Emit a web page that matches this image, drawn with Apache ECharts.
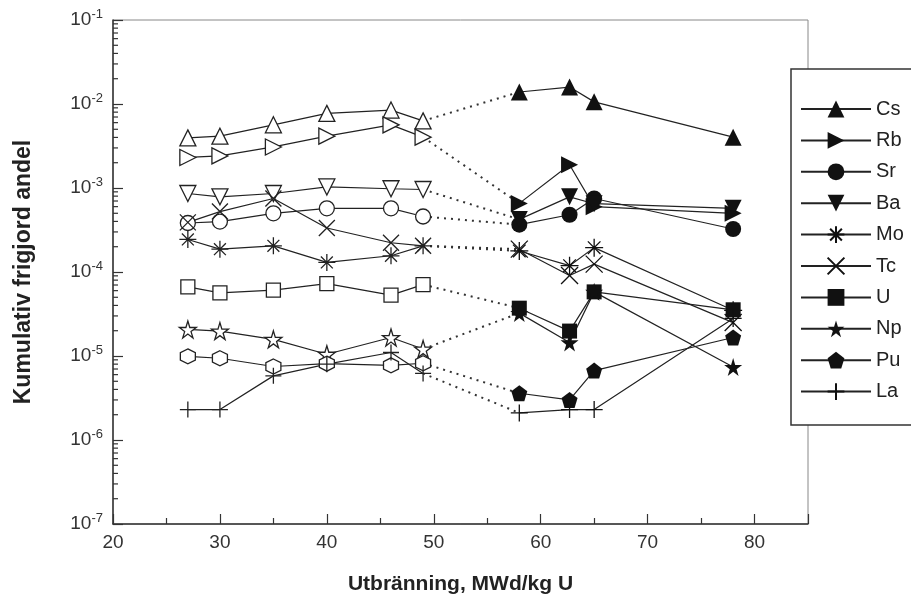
<!DOCTYPE html>
<html>
<head>
<meta charset="utf-8">
<script src="https://cdn.jsdelivr.net/npm/echarts@6/dist/echarts.min.js"></script>
<style>
  html, body { margin: 0; padding: 0; background: #fff; }
  #main { width: 911px; height: 600px; }
</style>
</head>
<body>
<div id="main"></div>
<script>
// utbränning (MWd/kg U)
const xOpen = [27, 30, 35, 40, 46, 49]
const xFilled = [58, 62.7, 65, 78]

// kumulativ frigjord andel per grundämne
const csOpen = [3.95e-3, 4.14e-3, 5.65e-3, 7.74e-3, 8.47e-3, 6.29e-3]
const csFilled = [1.39e-2, 1.59e-2, 1.06e-2, 4.03e-3]
const rbOpen = [2.31e-3, 2.41e-3, 3.08e-3, 4.14e-3, 5.65e-3, 4.03e-3]
const rbFilled = [6.56e-4, 1.89e-3, 6.0e-4, 5.0e-4]
const srOpen = [3.83e-4, 3.98e-4, 5.0e-4, 5.73e-4, 5.73e-4, 4.58e-4]
const srFilled = [3.66e-4, 4.8e-4, 7.5e-4, 3.25e-4]
const baOpen = [8.6e-4, 7.85e-4, 8.6e-4, 1.03e-3, 9.8e-4, 9.6e-4]
const baFilled = [4.23e-4, 7.85e-4, 6.5e-4, 5.73e-4]
const moOpen = [2.44e-4, 1.87e-4, 2.05e-4, 1.30e-4, 1.56e-4, 2.05e-4]
const moFilled = [1.78e-4, 1.19e-4, 1.95e-4, 3.5e-5]
const tcOpen = [3.9e-4, 5.24e-4, 7.5e-4, 3.34e-4, 2.23e-4, 2.05e-4]
const tcFilled = [1.87e-4, 9.1e-5, 1.24e-4, 2.5e-5]
const uOpen = [6.64e-5, 5.65e-5, 6.1e-5, 7.27e-5, 5.3e-5, 7.08e-5]
const uFilled = [3.71e-5, 1.98e-5, 5.8e-5, 3.55e-5]
const npOpen = [2.07e-5, 1.98e-5, 1.58e-5, 1.05e-5, 1.66e-5, 1.21e-5]
const npFilled = [3.24e-5, 1.45e-5, 5.8e-5, 7.4e-6]
const puOpen = [9.9e-6, 9.4e-6, 7.5e-6, 8.1e-6, 7.75e-6, 8.2e-6]
const puFilled = [3.6e-6, 3.0e-6, 6.7e-6, 1.66e-5]
const laOpen = [2.3e-6, 2.3e-6, 5.8e-6, 8.0e-6, 1.1e-5, 6.2e-6]
const laFilled = [2.1e-6, 2.3e-6, 2.3e-6, 2.8e-5]

// logaritmiska delstreck 2..9 per dekad
const minorTicks = []
for (let e = -7; e < -1; e++) {
  for (let m = 2; m <= 9; m++) minorTicks.push([20, m * Math.pow(10, e)])
}

const INK = '#222'
const P_AST = 'path://M0,5L10,5M5,0L5,10M1.5,1.5L8.5,8.5M8.5,1.5L1.5,8.5'
const P_X = 'path://M0,0L10,10M10,0L0,10'
const P_PLUS = 'path://M5,0L5,10M0,5L10,5'
const P_STAR = 'path://M50,0L61,35L98,35L68,57L79,91L50,70L21,91L32,57L2,35L39,35Z'
const P_PENT = 'path://M50,0L98,36L80,95L20,95L2,36Z'
const P_HEX = 'path://M50,0L93,25L93,75L50,100L7,75L7,25Z'

// [namn, öppen, fylld, symbol öppen, symbol fylld, rotation, storlek, bara streck]
const elements = [
  ['Cs', csOpen, csFilled, 'triangle', 'triangle', 0, 16, false],
  ['Rb', rbOpen, rbFilled, 'triangle', 'triangle', -90, 16, false],
  ['Sr', srOpen, srFilled, 'circle', 'circle', 0, 15, false],
  ['Ba', baOpen, baFilled, 'triangle', 'triangle', 180, 16, false],
  ['Mo', moOpen, moFilled, P_AST, P_AST, 0, 17, true],
  ['Tc', tcOpen, tcFilled, P_X, P_X, 0, 16, true],
  ['U', uOpen, uFilled, 'rect', 'rect', 0, 14, false],
  ['Np', npOpen, npFilled, P_STAR, P_STAR, 0, 17, false],
  ['Pu', puOpen, puFilled, P_HEX, P_PENT, 0, 15, false],
  ['La', laOpen, laFilled, P_PLUS, P_PLUS, 0, 16, true]
]

const series = []
elements.forEach(([name, open, filled, symO, symF, rot, size, strokeOnly]) => {
  // öppna symboler, heldragen linje
  series.push({
    name: name + '-öppen',
    type: 'line',
    data: xOpen.map((x, i) => [x, open[i]]),
    symbol: symO,
    symbolRotate: rot,
    symbolSize: size,
    showAllSymbol: true,
    lineStyle: { color: INK, width: 1.2 },
    itemStyle: { color: strokeOnly ? INK : '#fff', borderColor: INK, borderWidth: 1.3 },
    emphasis: { disabled: true },
    z: 3
  })
  // prickad övergång
  series.push({
    name: name + '-prick',
    type: 'line',
    data: [[xOpen[5], open[5]], [xFilled[0], filled[0]]],
    symbol: 'none',
    lineStyle: { color: '#333', width: 2, type: [2, 5] },
    emphasis: { disabled: true },
    z: 2
  })
  // fyllda symboler
  series.push({
    name: name,
    type: 'line',
    data: xFilled.map((x, i) => [x, filled[i]]),
    symbol: symF,
    symbolRotate: rot,
    symbolSize: size + 1,
    showAllSymbol: true,
    lineStyle: { color: INK, width: 1.2 },
    itemStyle: { color: '#111', borderColor: '#111', borderWidth: strokeOnly ? 1.3 : 0 },
    emphasis: { disabled: true },
    z: 3
  })
})

series.push({
  type: 'custom',
  silent: true,
  data: minorTicks,
  encode: { x: 0, y: 1 },
  renderItem: (params, api) => {
    const p = api.coord([api.value(0), api.value(1)])
    return {
      type: 'line',
      shape: { x1: p[0], y1: p[1], x2: p[0] + 5, y2: p[1] },
      style: { stroke: '#333', lineWidth: 1.2 }
    }
  },
  z: 4
})

const chart = echarts.init(document.getElementById('main'))
chart.setOption({
  animation: false,
  backgroundColor: '#fff',
  textStyle: { fontFamily: 'Liberation Sans, Arial, sans-serif' },
  grid: { left: 113, right: 103, top: 20, bottom: 67, show: true, borderColor: '#888', borderWidth: 1, backgroundColor: 'transparent' },
  xAxis: {
    type: 'value',
    min: 20,
    max: 85,
    interval: 10,
    name: 'Utbränning, MWd/kg U',
    nameLocation: 'middle',
    nameGap: 50,
    nameTextStyle: { fontSize: 21, fontWeight: 'bold', color: INK },
    axisLine: { lineStyle: { color: '#333', width: 1.5 } },
    axisTick: { inside: true, length: 10, lineStyle: { color: '#333', width: 1.2 } },
    minorTick: { show: true, splitNumber: 2, length: 6, lineStyle: { color: '#333', width: 1.2 } },
    axisLabel: { fontSize: 19, color: '#333', margin: 9, formatter: v => (v > 80 ? '' : v) },
    splitLine: { show: false }
  },
  yAxis: {
    type: 'log',
    logBase: 10,
    min: 1e-7,
    max: 1e-1,
    name: 'Kumulativ frigjord andel',
    nameLocation: 'middle',
    nameGap: 78,
    nameTextStyle: { fontSize: 23, fontWeight: 'bold', color: INK },
    axisLine: { lineStyle: { color: '#333', width: 1.5 } },
    axisTick: { inside: true, length: 10, lineStyle: { color: '#333', width: 1.2 } },
    axisLabel: {
      color: '#333',
      margin: 10,
      formatter: v => '{b|10}{sup|' + Math.round(Math.log10(v)) + '}',
      rich: {
        b: { fontSize: 19, color: '#333' },
        sup: { fontSize: 13, color: '#333', padding: [0, 0, 12, 0] }
      }
    },
    splitLine: { show: false }
  },
  legend: {
    orient: 'vertical',
    left: 800,
    top: 99,
    padding: 0,
    itemWidth: 70,
    itemHeight: 21,
    itemGap: 11.4,
    selectedMode: false,
    data: elements.map(e => e[0]),
    textStyle: { fontSize: 20, color: INK },
    z: 10
  },
  graphic: [{
    type: 'rect',
    shape: { x: 791, y: 69, width: 140, height: 356 },
    style: { fill: '#fff', stroke: '#333', lineWidth: 1.5 },
    z: 8
  }],
  series: series
})
</script>
</body>
</html>
